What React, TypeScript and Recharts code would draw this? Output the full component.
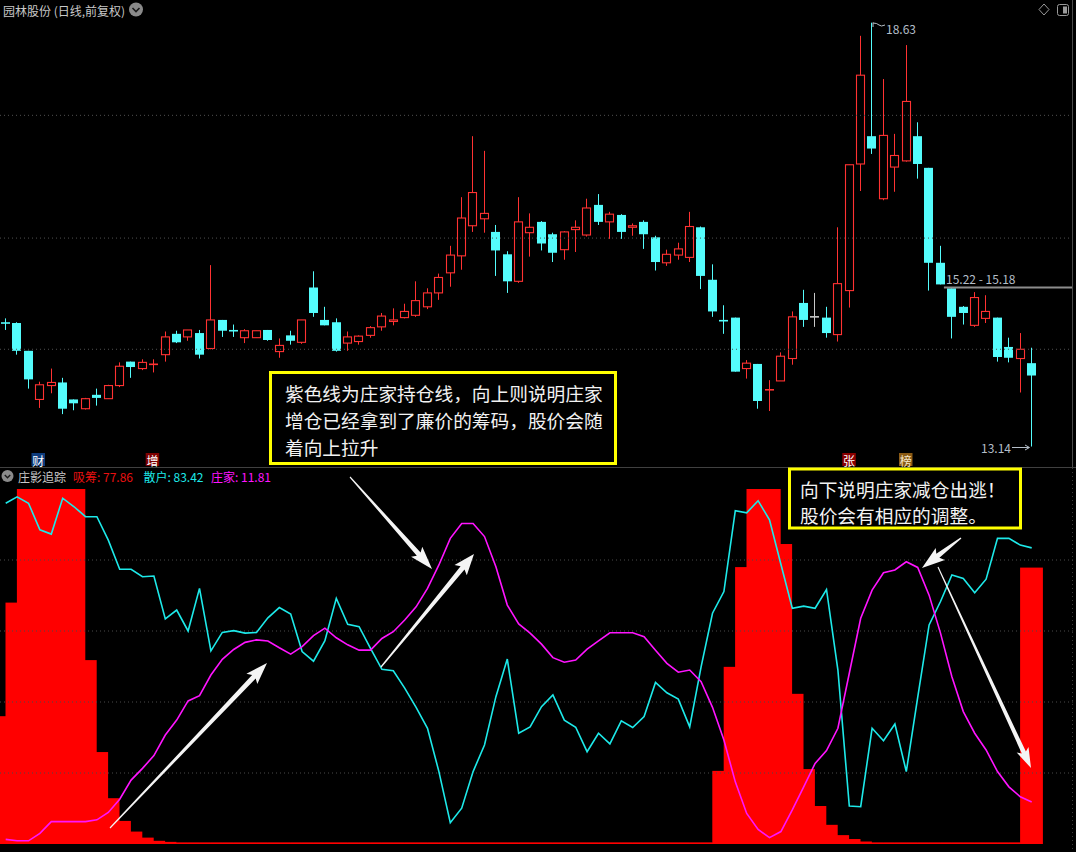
import React from 'react';
import { ComposedChart, Bar, Line, XAxis, YAxis, ReferenceLine } from 'recharts';

// 91 trading days, index 0..90
const opens = [
  14.745, 14.74, 14.38, 13.75, 13.93, 13.97, 13.75, 13.63, 13.81, 13.76,
  13.93, 14.24, 14.15, 14.2, 14.33, 14.6, 14.56, 14.61, 14.41, 14.78,
  14.645, 14.55, 14.55, 14.65, 14.37, 14.58, 14.49, 15.2, 14.78, 14.75,
  14.48, 14.5, 14.58, 14.69, 14.76, 14.81, 14.84, 14.95, 15.13, 15.39,
  15.61, 16.0, 16.09, 15.92, 15.63, 15.28, 15.91, 16.05, 15.89, 15.69,
  15.95, 15.88, 16.27, 16.05, 16.14, 15.98, 16.05, 15.85, 15.52, 15.62,
  15.59, 15.98, 15.3, 14.775, 14.81, 14.15, 14.21, 13.87, 13.99, 14.28,
  15.0, 14.82, 14.81, 14.59, 15.16, 16.8, 17.16, 16.35, 16.76, 16.84,
  17.16, 16.75, 15.52, 15.19, 14.95, 14.71, 14.8, 14.81, 14.43, 14.28,
  14.22,
];
const highs = [
  14.8, 14.75, 14.38, 13.98, 14.15, 14.03, 13.75, 13.77, 13.89, 13.94,
  14.23, 14.24, 14.27, 14.27, 14.63, 14.64, 14.65, 14.65, 15.49, 14.78,
  14.72, 14.66, 14.64, 14.65, 14.54, 14.64, 14.78, 15.41, 14.95, 14.8,
  14.63, 14.58, 14.7, 14.87, 14.93, 14.99, 15.28, 15.19, 15.38, 15.74,
  16.37, 17.16, 16.97, 16.01, 15.67, 16.37, 16.16, 16.06, 15.91, 15.93,
  16.07, 16.35, 16.41, 16.18, 16.15, 16.03, 16.07, 15.87, 15.69, 15.78,
  16.18, 15.99, 15.5, 14.97, 14.81, 14.26, 14.21, 14.0, 14.36, 14.89,
  15.17, 15.13, 14.95, 15.98, 16.79, 18.46, 18.63, 17.9, 17.19, 18.34,
  17.34, 16.75, 15.74, 15.19, 14.96, 15.14, 15.1, 14.81, 14.55, 14.61,
  14.42,
];
const lows = [
  14.65, 14.33, 13.89, 13.64, 13.83, 13.56, 13.61, 13.62, 13.67, 13.76,
  13.91, 14.03, 14.13, 14.1, 14.24, 14.48, 14.51, 14.28, 14.4, 14.56,
  14.56, 14.48, 14.55, 14.51, 14.29, 14.46, 14.47, 14.82, 14.71, 14.37,
  14.38, 14.46, 14.55, 14.64, 14.71, 14.8, 14.82, 14.92, 15.04, 15.21,
  15.43, 15.92, 15.91, 15.35, 15.13, 15.26, 15.6, 15.68, 15.53, 15.56,
  15.66, 15.86, 16.01, 15.83, 15.83, 15.87, 15.7, 15.42, 15.48, 15.56,
  15.53, 15.18, 14.82, 14.6, 14.11, 14.02, 13.63, 13.6, 13.99, 14.2,
  14.69, 14.69, 14.55, 14.5, 14.94, 16.45, 16.93, 16.33, 16.44, 16.83,
  16.61, 15.16, 15.24, 14.54, 14.72, 14.69, 14.74, 14.24, 14.23, 13.84,
  13.14,
];
const closes = [
  14.735, 14.38, 14.01, 13.94, 13.97, 13.63, 13.7, 13.76, 13.77, 13.93,
  14.18, 14.17, 14.23, 14.21, 14.56, 14.49, 14.65, 14.33, 14.78, 14.64,
  14.635, 14.64, 14.64, 14.52, 14.45, 14.51, 14.78, 14.87, 14.71, 14.38,
  14.56, 14.57, 14.68, 14.83, 14.78, 14.89, 15.03, 15.13, 15.33, 15.62,
  16.1, 16.43, 16.16, 15.68, 15.28, 16.05, 15.98, 15.77, 15.65, 15.92,
  15.98, 16.23, 16.05, 16.15, 15.92, 16.0, 15.89, 15.53, 15.63, 15.7,
  15.99, 15.35, 14.89, 14.765, 14.11, 14.22, 13.73, 13.88, 14.31, 14.82,
  14.78, 14.82, 14.61, 15.25, 16.79, 17.95, 17.0, 17.17, 16.91, 17.61,
  16.8, 15.52, 15.24, 14.82, 14.87, 15.07, 14.89, 14.3, 14.29, 14.4,
  14.06,
];

// 庄影追踪 indicator
const accumulation = [
  36, 68, 100, 100, 100, 100, 100, 51.8, 25.9, 12.9,
  6.5, 3.5, 1.8, 0.9, 0.6, 0.3, 0.2, 0.1, 0.1, 0.1,
  0.1, 0.1, 0.1, 0.1, 0.1, 0.1, 0.1, 0.1, 0.1, 0.1,
  0.1, 0.1, 0.1, 0.1, 0.1, 0.1, 0.1, 0.1, 0.1, 0.1,
  0.1, 0.1, 0.1, 0.1, 0.1, 0.1, 0.1, 0.1, 0.1, 0.1,
  0.1, 0.1, 0.1, 0.1, 0.1, 0.1, 0.1, 0.1, 0.1, 0.1,
  0.1, 0.1, 0.2, 20.6, 49.9, 78, 100, 100, 84.5, 42.3,
  21.1, 10.7, 5.4, 2.5, 1.4, 0.7, 0.35, 0.2, 0.1, 0.1,
  0.1, 0.1, 0.1, 0.1, 0.1, 0.1, 0.1, 0.1, 0.1, 0.1,
  77.86,
];
const retail = [
  96.0, 97.8, 96.0, 88.5, 87.3, 97.4, 95.0, 92.2, 92.2, 85.6,
  77.4, 77.4, 75.3, 75.5, 63.4, 65.9, 60.0, 72.0, 54.4, 59.6,
  60.1, 59.4, 59.6, 63.7, 66.6, 64.8, 54.2, 51.5, 57.3, 69.2,
  61.9, 61.2, 55.1, 49.2, 48.8, 43.9, 38.5, 32.6, 20.4, 6.0,
  10.1, 20.4, 27.9, 41.5, 52.1, 31.2, 33.0, 38.7, 42.0, 34.9,
  32.9, 26.0, 31.2, 28.2, 34.7, 32.8, 35.9, 45.5, 42.6, 40.8,
  33.0, 49.9, 65.0, 71.1, 93.9, 93.3, 96.7, 91.3, 78.8, 66.4,
  67.0, 66.4, 71.7, 49.0, 10.7, 10.5, 32.6, 29.1, 33.8, 20.4,
  41.3, 61.7, 68.3, 75.8, 74.8, 70.8, 74.6, 86.1, 86.1, 84.2,
  83.42,
];
const dealer = [
  1.3, 0.9, 0.9, 3.0, 6.3, 6.3, 6.3, 6.3, 6.8, 8.9,
  12.6, 18.0, 21.3, 24.9, 30.7, 34.9, 40.3, 41.8, 47.6, 52.0,
  54.8, 56.8, 57.5, 57.2, 55.3, 53.5, 55.6, 58.7, 60.8, 58.1,
  56.1, 54.6, 54.6, 57.9, 59.8, 63.1, 66.8, 72.0, 78.6, 86.1,
  90.3, 90.3, 86.6, 78.1, 67.3, 62.0, 59.4, 56.3, 52.5, 51.2,
  51.8, 54.9, 57.2, 59.5, 59.5, 59.5, 58.4, 54.6, 50.9, 48.4,
  49.0, 45.7, 38.5, 29.3, 17.5, 8.6, 4.1, 1.8, 3.5, 9.6,
  16.1, 22.7, 26.3, 32.6, 48.1, 63.6, 71.5, 76.4, 77.2, 79.5,
  77.9, 70.1, 59.4, 47.1, 37.3, 31.2, 26.5, 20.4, 16.1, 13.3,
  11.81,
];

const priceGrid = [17.43, 15.84, 14.4];
const flowGrid = [20, 40, 60, 80];

const W = 1076;
const TOP_H = 467;
const BOTTOM_H = 385;
const X_MIN = -0.5;
const X_MAX = 93.886;
const STEP = W / (X_MAX - X_MIN);

const UP = '#FF3232';
const DOWN = '#54FCFC';
const FLAT = '#C8C8C8';
const CYAN = '#1DE9E9';
const MAGENTA = '#FF14FF';
const FONT = '"Noto Sans CJK SC", "DejaVu Sans", sans-serif';

const candles = opens.map((o, i) => ({ i, o, h: highs[i], l: lows[i], c: closes[i] }));
const flow = accumulation.map((acc, i) => ({ i, acc, retail: retail[i], dealer: dealer[i] }));

function Candle(props: any) {
  const { x, y, width, height, payload } = props;
  const { o, h, l, c } = payload;
  const top = Math.min(y, y + height);
  const span = Math.abs(height);
  const py = (p: number) => top + ((h - p) / (h - l)) * span;
  const cx = Math.floor(x + width / 2) + 0.5;
  const color = c > o ? UP : c < o ? DOWN : FLAT;
  const yo = py(o);
  const yc = py(c);
  const bTop = Math.min(yo, yc);
  const bBot = Math.max(yo, yc);
  const wick = <line x1={cx} x2={cx} y1={top} y2={top + span} stroke={color} strokeWidth={1} />;
  if (bBot - bTop < 1.5) {
    const my = (bTop + bBot) / 2;
    return (
      <g>
        {wick}
        <line x1={cx - 4.5} x2={cx + 4.5} y1={my} y2={my} stroke={color} strokeWidth={1.6} />
      </g>
    );
  }
  if (c > o) {
    return (
      <g>
        {wick}
        <rect x={cx - 4} y={bTop} width={8} height={bBot - bTop} fill="#000" stroke={color} strokeWidth={1.1} />
      </g>
    );
  }
  return (
    <g>
      {wick}
      <rect x={cx - 4.5} y={bTop} width={9} height={bBot - bTop} fill={color} />
    </g>
  );
}

function AccBar(props: any) {
  const { x, y, width, height } = props;
  const cx = x + width / 2;
  const bottom = Math.max(y, y + height);
  const top = Math.min(Math.min(y, y + height), bottom - 1.4);
  return <rect x={cx - STEP} y={top} width={STEP * 2} height={bottom - top} fill="#FF0000" />;
}

function arrowPoints(a: number[], headL: number, headW: number, shaftW: number) {
  const [x1, y1, x2, y2] = a;
  const len = Math.hypot(x2 - x1, y2 - y1);
  const ux = (x2 - x1) / len;
  const uy = (y2 - y1) / len;
  const nx = -uy;
  const ny = ux;
  const bx = x2 - ux * headL;
  const by = y2 - uy * headL;
  const pts = [
    [x1 + nx * 0.6, y1 + ny * 0.6],
    [bx + nx * shaftW / 2, by + ny * shaftW / 2],
    [bx - ux * 3 + nx * headW / 2, by - uy * 3 + ny * headW / 2],
    [x2, y2],
    [bx - ux * 3 - nx * headW / 2, by - uy * 3 - ny * headW / 2],
    [bx - nx * shaftW / 2, by - ny * shaftW / 2],
    [x1 - nx * 0.6, y1 - ny * 0.6],
  ];
  return pts.map((p) => p[0].toFixed(1) + ',' + p[1].toFixed(1)).join(' ');
}

const arrows = [
  { a: [350, 477, 432, 569], hl: 20, hw: 15, sw: 5 },
  { a: [110, 828, 267, 663], hl: 19, hw: 15, sw: 5 },
  { a: [381, 667, 474, 554], hl: 18, hw: 16, sw: 5 },
  { a: [961, 538, 922, 568], hl: 20, hw: 15, sw: 5 },
  { a: [938, 567, 1031, 768], hl: 17, hw: 13, sw: 4.5 },
];

const note1 = ['紫色线为庄家持仓线，向上则说明庄家', '增仓已经拿到了廉价的筹码，股价会随', '着向上拉升'];
const note2 = ['向下说明庄家减仓出逃！', '股价会有相应的调整。'];

function Marker({ x, label, bg, color }: { x: number; label: string; bg: string; color: string }) {
  return (
    <g>
      <rect x={x} y={453} width={13.5} height={13} fill={bg} />
      <text x={x + 6.75} y={460} fill={color} fontSize={12} textAnchor="middle" dominantBaseline="central" fontFamily={FONT}>
        {label}
      </text>
    </g>
  );
}

export default function App() {
  return (
    <div style={{ position: 'absolute', left: 0, top: 0, width: W, height: TOP_H + BOTTOM_H, background: '#000', overflow: 'hidden' }}>
      <div style={{ position: 'absolute', left: 0, top: 0 }}>
        <ComposedChart width={W} height={TOP_H} data={candles} margin={{ top: 0, right: 0, bottom: 0, left: 0 }}>
          <XAxis dataKey="i" type="number" domain={[X_MIN, X_MAX]} allowDataOverflow hide />
          <YAxis domain={[12.875, 18.924]} allowDataOverflow hide />
          {priceGrid.map((p) => (
            <ReferenceLine key={p} y={p} stroke="#505050" strokeDasharray="1 3" />
          ))}
          <ReferenceLine segment={[{ x: 82.3, y: 15.2 }, { x: 93.55, y: 15.2 }]} stroke="#8c8c8c" strokeWidth={2} />
          <Bar dataKey={(d: any) => [d.l, d.h]} barSize={9} shape={Candle} isAnimationActive={false} />
        </ComposedChart>
      </div>
      <div style={{ position: 'absolute', left: 0, top: TOP_H }}>
        <ComposedChart width={W} height={BOTTOM_H} data={flow} margin={{ top: 22, right: 0, bottom: 8, left: 0 }}>
          <XAxis dataKey="i" type="number" domain={[X_MIN, X_MAX]} allowDataOverflow hide />
          <YAxis domain={[0, 100]} allowDataOverflow hide />
          {flowGrid.map((v) => (
            <ReferenceLine key={v} y={v} stroke="#4a4a4a" strokeDasharray="1 3" />
          ))}
          <Bar dataKey="acc" barSize={11} shape={AccBar} isAnimationActive={false} />
          <Line dataKey="retail" type="linear" stroke={CYAN} strokeWidth={1.6} dot={false} isAnimationActive={false} />
          <Line dataKey="dealer" type="linear" stroke={MAGENTA} strokeWidth={1.6} dot={false} isAnimationActive={false} />
        </ComposedChart>
      </div>
      <svg width={W} height={TOP_H + BOTTOM_H} style={{ position: 'absolute', left: 0, top: 0, pointerEvents: 'none' }}>
        <line x1={0} x2={W} y1={467.5} y2={467.5} stroke="#404040" />
        <line x1={1072.5} x2={1072.5} y1={0} y2={467} stroke="#4a4a4a" />
        <line x1={1072.5} x2={1072.5} y1={468} y2={852} stroke="#3a3a3a" strokeDasharray="1 3" />

        <text x={3} y={10} fill="#c8c8c8" fontSize={12} dominantBaseline="central" fontFamily={FONT}>
          园林股份 (日线,前复权)
        </text>
        <circle cx={136} cy={9.5} r={7} fill="#8a8a8a" />
        <path d="M132.5 8 L136 11.5 L139.5 8" fill="none" stroke="#1a1a1a" strokeWidth={1.6} />
        <path d="M1044 4 L1049 9.5 L1044 15 L1039 9.5 Z" fill="none" stroke="#9a9a9a" />
        <rect x={1057.5} y={4.5} width={11} height={11} rx={2} fill="none" stroke="#9a9a9a" />
        <rect x={1063} y={6.5} width={4} height={7} fill="#9a9a9a" />

        <path d="M873 27 V22.5 M873 23 Q877 23 879 25 T885 25" fill="none" stroke="#b8c0c8" strokeWidth={1} />
        <text x={886} y={28.5} fill="#b4bec8" fontSize={12} dominantBaseline="central" fontFamily={FONT}>
          18.63
        </text>
        <text x={946} y={278.5} fill="#b4bec8" fontSize={12} dominantBaseline="central" fontFamily={FONT}>
          15.22 - 15.18
        </text>
        <text x={981} y={447.5} fill="#b4bec8" fontSize={12} dominantBaseline="central" fontFamily={FONT}>
          13.14
        </text>
        <path d="M1012 447.5 H1029 M1025 445 L1029.5 447.5 L1025 450" fill="none" stroke="#b4bec8" strokeWidth={1} />

        <Marker x={31.5} label="财" bg="#0d3b7c" color="#ffffff" />
        <Marker x={145.7} label="增" bg="#7d0000" color="#ffffff" />
        <Marker x={842.3} label="张" bg="#8a0000" color="#ffffff" />
        <Marker x={899} label="榜" bg="#8a5a14" color="#f5e6c8" />

        <circle cx={7.5} cy={476} r={6} fill="#8a8a8a" />
        <path d="M4.8 475 L7.5 477.8 L10.2 475" fill="none" stroke="#1a1a1a" strokeWidth={1.4} />
        <text y={476} fontSize={12} dominantBaseline="central" fontFamily={FONT}>
          <tspan x={18} fill="#c8c8c8">庄影追踪</tspan>
          <tspan x={73} fill="#E81010">吸筹: 77.86</tspan>
          <tspan x={143.5} fill={CYAN}>散户: 83.42</tspan>
          <tspan x={211} fill={MAGENTA}>庄家: 11.81</tspan>
        </text>

        <rect x={270.5} y={372.5} width={345} height={91} fill="#000" stroke="#FFFF00" strokeWidth={3} />
        {note1.map((t, k) => (
          <text key={t} x={285} y={392 + k * 27} fill="#f2f2f2" fontSize={18.7} dominantBaseline="central" fontFamily={FONT}>
            {t}
          </text>
        ))}
        <rect x={789.5} y={469} width={231} height={59} fill="#000" stroke="#FFFF00" strokeWidth={3} />
        {note2.map((t, k) => (
          <text key={t} x={800} y={488.5 + k * 26} fill="#f2f2f2" fontSize={18.7} dominantBaseline="central" fontFamily={FONT}>
            {t}
          </text>
        ))}

        {arrows.map((ar, k) => (
          <polygon key={k} points={arrowPoints(ar.a, ar.hl, ar.hw, ar.sw)} fill="#f4f4f4" />
        ))}
      </svg>
    </div>
  );
}
